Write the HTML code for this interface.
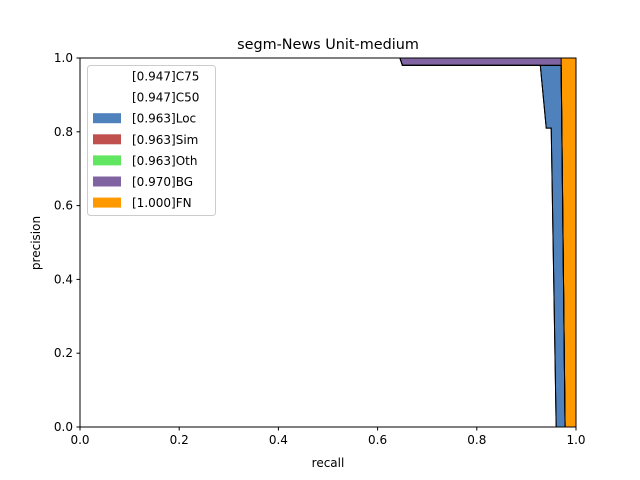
<!DOCTYPE html>
<html><head><meta charset="utf-8"><style>
body{margin:0;background:#fff}
svg{font-family:"DejaVu Sans","Liberation Sans",sans-serif;display:block}
</style></head><body>
<svg id="chart" width="640" height="480" viewBox="0 0 640 480">
<rect width="640" height="480" fill="#fff"/>
<g id="plot"></g>
<g id="axes"></g>
<text x="328" y="49" font-size="14.4" text-anchor="middle">segm-News Unit-medium</text>
<text x="328" y="467" font-size="12" text-anchor="middle">recall</text>
<text x="40" y="243" font-size="12" text-anchor="middle" transform="rotate(-90 40 243)">precision</text>
<g id="legend"></g>
</svg>
<script>
const seriesNames=["FN","BG","Oth","Sim","Loc","C50","C75"];
const seriesColors=["#ff9900","#8064a2","#60e660","#c0504d","#4f81bd","#ffffff","#ffffff"];
const fnRecall=[0,1,1];const fnPrec=[1,1,0];
const bgRecall=[0,0.97,0.978];const bgPrec=[1,1,0];
const othRecall=[0,0.645,0.65,0.97,0.978];const othPrec=[1,1,0.98,0.98,0];
const simRecall=[0,0.645,0.65,0.97,0.978];const simPrec=[1,1,0.98,0.98,0];
const locRecall=[0,0.645,0.65,0.97,0.978];const locPrec=[1,1,0.98,0.98,0];
const c50Recall=[0,0.645,0.65,0.928,0.94,0.95,0.96];const c50Prec=[1,1,0.98,0.98,0.81,0.81,0];
const c75Recall=[0,0.645,0.65,0.928,0.94,0.95,0.96];const c75Prec=[1,1,0.98,0.98,0.81,0.81,0];
const legendLabels=["[0.947]C75","[0.947]C50","[0.963]Loc","[0.963]Sim","[0.963]Oth","[0.970]BG","[1.000]FN"];
const legendColors=[null,null,"#4f81bd","#c0504d","#60e660","#8064a2","#ff9900"];
const tickValues=[0,0.2,0.4,0.6,0.8,1.0];
const tickLabels=["0.0","0.2","0.4","0.6","0.8","1.0"];

const X0=80,X1=576,Y0=427,Y1=58;
const sx=v=>X0+v*(X1-X0), sy=v=>Y0-v*(Y0-Y1);
const NS="http://www.w3.org/2000/svg";
const plot=document.getElementById('plot'),axes=document.getElementById('axes'),leg=document.getElementById('legend');
function mk(t,a,p){const e=document.createElementNS(NS,t);for(const k in a)e.setAttribute(k,a[k]);p.appendChild(e);return e;}
const curves=[[fnRecall,fnPrec],[bgRecall,bgPrec],[othRecall,othPrec],[simRecall,simPrec],[locRecall,locPrec],[c50Recall,c50Prec],[c75Recall,c75Prec]];
curves.forEach((c,i)=>{
  let pts=c[0].map((r,j)=>sx(r)+","+sy(c[1][j]));
  pts.push(sx(c[0][c[0].length-1])+","+sy(0));pts.push(sx(0)+","+sy(0));
  const p=mk('polygon',{points:pts.join(' '),fill:seriesColors[i]},plot);
  
  
});
curves.forEach((c,i)=>{
  const l=mk('polyline',{points:c[0].map((r,j)=>sx(r)+","+sy(c[1][j])).join(' '),fill:'none',stroke:'#000','stroke-width':1},plot);
  
  
});
const fr=mk('rect',{x:X0,y:Y1,width:X1-X0,height:Y0-Y1,fill:'none',stroke:'#000','stroke-width':1},axes);


tickValues.forEach((v,i)=>{
  const a=mk('line',{x1:sx(v),x2:sx(v),y1:Y0,y2:Y0+3.5,stroke:'#000'},axes);
  
  
  const t=mk('text',{x:sx(v),y:Y0+17,'font-size':12,'text-anchor':'middle'},axes);t.textContent=tickLabels[i];
  
  
  const b=mk('line',{x1:X0-3.5,x2:X0,y1:sy(v),y2:sy(v),stroke:'#000'},axes);
  
  
  const u=mk('text',{x:X0-7,y:sy(v)+4,'font-size':12,'text-anchor':'end'},axes);u.textContent=tickLabels[i];
  
  
});
const lb=mk('rect',{x:87.5,y:65.5,width:128,height:150,rx:3,fill:'#fff','fill-opacity':0.8,stroke:'#ccc'},leg);


legendLabels.forEach((s,i)=>{
  const y=76+i*21.1;
  if(legendColors[i]){const r=mk('rect',{x:93,y:y-5,width:28,height:10,fill:legendColors[i]},leg);
    
    }
  const t=mk('text',{x:132,y:y+4.5,'font-size':12},leg);t.textContent=s;
  
  
});
</script>
</body></html>
